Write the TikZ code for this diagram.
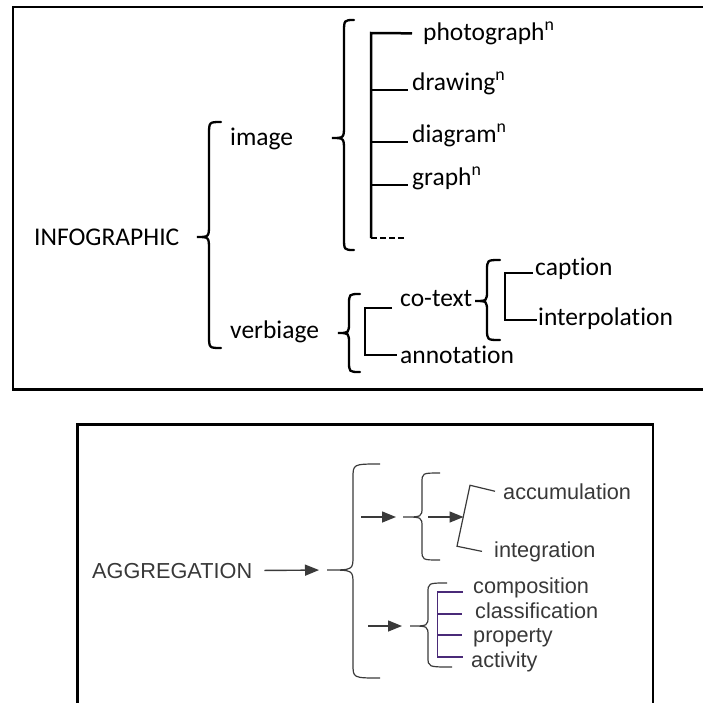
\documentclass[tikz,border=0pt]{standalone}
\usepackage{fontspec}
\setmainfont{Carlito}[Ligatures=NoCommon]
\newfontfamily\arialfont{Liberation Sans}
\usetikzlibrary{arrows.meta}
\definecolor{aggtext}{HTML}{383838}
\definecolor{aggline}{HTML}{3A3A3A}
\definecolor{listpurple}{HTML}{4A2A78}

\begin{document}
\begin{tikzpicture}[x=1pt,y=-1pt,
	info/.style={inner sep=0pt,anchor=base west,font=\fontsize{25.5}{30}\selectfont},
	agg/.style={inner sep=0pt,anchor=base west,text=aggtext,font=\arialfont\fontsize{21.7}{26}\selectfont},
	frame/.style={line width=2.6pt},
	tree/.style={line width=2.5pt},
	fatbrace/.style={line width=2.3pt,line cap=round},
	thinbrace/.style={line width=1.2pt,draw=aggline},
	plist/.style={line width=1.6pt,draw=listpurple},
	arr/.style={line width=1.4pt,draw=aggline,-{Triangle[length=14pt,width=11pt]}}]

	\useasboundingbox (0,0) rectangle (703,702);

	% upper frame
	\draw[frame] (703,7) -- (12.8,7) -- (12.8,389.5) -- (703,389.5);

	\node[info] (infog) at (34,245) {INFOGRAPHIC};
	\node[info] (image) at (230,145) {image};
	\node[info] (verb) at (230,338) {verbiage};

	\node[info] (photo) at (423,40) {photograph\textsuperscript{n}};
	\node[info] (drawg) at (412,90) {drawing\textsuperscript{n}};
	\node[info] (diag) at (412,142) {diagram\textsuperscript{n}};
	\node[info] (graph) at (412,185) {graph\textsuperscript{n}};

	\node[info] (cotext) at (400,306) {co-text};
	\node[info] (annot) at (400,363) {annotation};
	\node[info] (capt) at (535,275) {caption};
	\node[info] (interp) at (538,325) {interpolation};

	% braces
	\draw[fatbrace] (221,122) .. controls (209,122) .. (209,135) -- (209,224) .. controls (209,237) .. (197,237) .. controls (209,237) .. (209,250) -- (209,335) .. controls (209,348) .. (221,348);
	\draw[fatbrace] (354,20) .. controls (344,20) .. (344,33) -- (344,125) .. controls (344,138) .. (332,138) .. controls (344,138) .. (344,151) -- (344,237) .. controls (344,250) .. (354,250);
	\draw[fatbrace] (360,294) .. controls (349,294) .. (349,305) -- (349,322) .. controls (349,333) .. (338,333) .. controls (349,333) .. (349,344) -- (349,361) .. controls (349,372) .. (360,372);
	\draw[fatbrace] (500,260) .. controls (487,260) .. (487,271) -- (487,290) .. controls (487,301) .. (475,301) .. controls (487,301) .. (487,312) -- (487,329) .. controls (487,340) .. (500,340);

	% image list
	\coordinate (itop) at (371,33);
	\coordinate (ibot) at (371,238);
	\coordinate (idots) at (406,238);
	\draw[tree] ([xshift=-11pt]photo.west) -- (itop) -- (ibot);
	\draw[tree] (itop |- drawg.base west) -- ([xshift=-4pt]drawg.base west);
	\draw[tree] (itop |- diag.base west) -- ([xshift=-4pt]diag.base west);
	\draw[tree] (itop |- graph.base west) -- ([xshift=-4pt]graph.base west);
	\draw[tree,dash pattern=on 6pt off 3pt] (ibot) -- (idots);

	% verbiage list
	\coordinate (vtop) at (365,308);
	\coordinate (vbot) at (365,355);
	\draw[tree] ([xshift=-8pt,yshift=-2pt]cotext.base west) -- (vtop) -- (vbot) -- ([xshift=-3pt,yshift=8pt]annot.base west);
	\coordinate (ctop) at (505,273);
	\coordinate (cbot) at (505,320);
	\draw[tree] ([xshift=-2pt,yshift=2pt]capt.base west) -- (ctop) -- (cbot) -- ([xshift=-1pt,yshift=5pt]interp.base west);

	% lower frame
	\draw[frame] (77.5,705) -- (77.5,424.5) -- (653,424.5) -- (653,705);

	\node[agg] (aggr) at (92,578) {AGGREGATION};
	\node[agg] (accum) at (503,499) {accumulation};
	\node[agg] (integ) at (494,557) {integration};
	\node[agg] (comp) at (473,593) {composition};
	\node[agg] (class) at (475,618) {classification};
	\node[agg] (prop) at (473,642) {property};
	\node[agg] (activ) at (471,667) {activity};

	\coordinate (bigtip) at (327,570);
	\coordinate (tip1) at (403,517);
	\coordinate (tip2) at (410,626);
	\coordinate (a1) at (361,517);
	\coordinate (a2) at (428,517);
	\coordinate (a3) at (368,626);
	\coordinate (angtip) at (463.5,517);

	\draw[thinbrace] (380,464) .. controls (353,464) .. (353,478) -- (353,556) .. controls (353,570) .. (bigtip) .. controls (353,570) .. (353,584) -- (353,664) .. controls (353,678) .. (380,678);
	\draw[thinbrace] (440,473) .. controls (422,473) .. (422,483) -- (422,507) .. controls (422,517) .. (tip1) .. controls (422,517) .. (422,527) -- (422,550) .. controls (422,560) .. (440,560);
	\draw[thinbrace] (447,583) .. controls (428,583) .. (428,593) -- (428,616) .. controls (428,626) .. (tip2) .. controls (428,626) .. (428,636) -- (428,657) .. controls (428,667) .. (452,667);

	\draw[arr,shorten <=12pt,shorten >=8pt] (aggr.east) -- (bigtip);
	\draw[arr,shorten >=7pt] (a1) -- (tip1);
	\draw[arr] (a2) -- (angtip);
	\draw[arr,shorten >=8pt] (a3) -- (tip2);

	\draw[thinbrace] ([xshift=-8pt]accum.west) -- ++(-25,-6) -- ++(-13,61) -- ([xshift=-12pt]integ.west);

	% purple list
	\coordinate (ptop) at (437.5,592);
	\coordinate (pbot) at (437.5,657);
	\draw[plist] ([xshift=-10pt,yshift=1pt]comp.base west) -- (ptop) -- (pbot) -- ([xshift=-8pt,yshift=10pt]activ.base west);
	\draw[plist] (ptop |- 0,614) -- ([xshift=-13pt,yshift=4pt]class.base west);
	\draw[plist] (ptop |- 0,635) -- ([xshift=-11pt,yshift=7pt]prop.base west);

\end{tikzpicture}
\end{document}
